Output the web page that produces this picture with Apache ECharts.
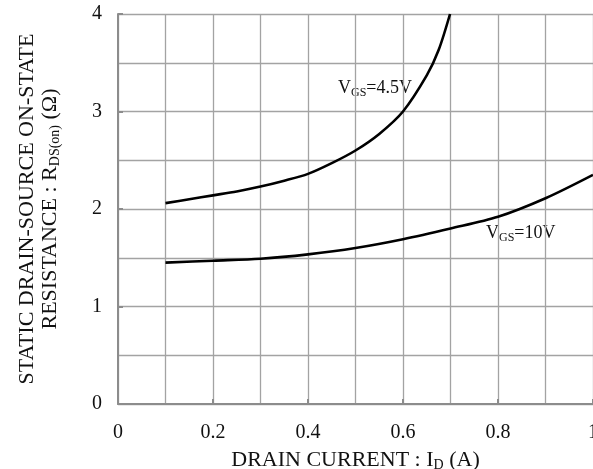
<!DOCTYPE html>
<html>
<head>
<meta charset="utf-8">
<script src="https://cdn.jsdelivr.net/npm/echarts@6/dist/echarts.min.js"></script>
<style>
  html, body { margin: 0; padding: 0; background: #fff; overflow: hidden; }
  #chart { width: 593px; height: 469px; }
</style>
</head>
<body>
<div id="chart"></div>
<script>
// drain current (A) vs on-state resistance (ohm)
var vgs45 = [
  [0.1, 2.06], [0.15, 2.10], [0.2, 2.14], [0.25, 2.18], [0.3, 2.23],
  [0.35, 2.29], [0.4, 2.36], [0.45, 2.47], [0.5, 2.6], [0.55, 2.77],
  [0.6, 3.0], [0.65, 3.37], [0.675, 3.63], [0.699, 4.0]
];
var vgs10 = [
  [0.1, 1.45], [0.2, 1.47], [0.3, 1.49], [0.4, 1.535], [0.5, 1.6],
  [0.6, 1.69], [0.7, 1.8], [0.8, 1.92], [0.9, 2.11], [1.0, 2.35]
];
var xTicks = ['0', '0.2', '0.4', '0.6', '0.8', '1'];
var yTicks = ['0', '1', '2', '3', '4'];

var FONT = '"Liberation Serif", "Times New Roman", serif';
var gridColor = '#a3a3a3';

var myChart = echarts.init(document.getElementById('chart'));

var option = {
  animation: false,
  textStyle: { fontFamily: FONT },
  grid: { left: 118, right: 0, top: 14, bottom: 65, show: false, containLabel: false, outerBoundsMode: 'none' },
  xAxis: [{
    type: 'value',
    min: 0, max: 1, interval: 0.1,
    axisLine: { lineStyle: { color: '#8c8c8c', width: 2 } },
    axisTick: { show: false },
    splitLine: { lineStyle: { color: gridColor, width: 1.3 } },
    axisLabel: {
      margin: 19, fontSize: 20, color: '#111', fontFamily: FONT,
      formatter: function(v) {
        var k = Math.round(v * 10);
        return k % 2 === 0 ? xTicks[k / 2] : '';
      }
    },
    name: '{a|DRAIN CURRENT : I}{s|D}{a| (A)}',
    nameLocation: 'middle',
    nameGap: 28,
    nameTextStyle: {
      rich: {
        a: { fontSize: 22, fontFamily: FONT, color: '#111', lineHeight: 24 },
        s: { fontSize: 14, fontFamily: FONT, color: '#111', lineHeight: 24, verticalAlign: 'bottom', padding: [10, 0, 0, 0] }
      }
    }
  }, {
    type: 'value',
    min: 0, max: 1, interval: 0.2,
    position: 'bottom',
    axisLine: { show: false },
    axisTick: { show: true, inside: true, length: 5, lineStyle: { color: '#8c8c8c', width: 2 } },
    axisLabel: { show: false },
    splitLine: { show: false }
  }],
  yAxis: [{
    type: 'value',
    min: 0, max: 4, interval: 0.5,
    axisLine: { show: true, lineStyle: { color: '#8c8c8c', width: 2 } },
    axisTick: { show: false },
    splitLine: { lineStyle: { color: gridColor, width: 1.3 } },
    axisLabel: {
      margin: 16, fontSize: 20, color: '#111', fontFamily: FONT,
      formatter: function(v) {
        var k = Math.round(v * 2);
        return k % 2 === 0 ? yTicks[k / 2] : '';
      }
    },
    name: '{a|STATIC DRAIN-SOURCE ON-STATE}\n{a|RESISTANCE : R}{s|DS(on)}{a| (Ω)}',
    nameLocation: 'middle',
    nameRotate: 90,
    nameGap: 56,
    nameTextStyle: {
      align: 'center',
      rich: {
        a: { fontSize: 22, fontFamily: FONT, color: '#111', lineHeight: 23 },
        s: { fontSize: 14, fontFamily: FONT, color: '#111', lineHeight: 23, verticalAlign: 'bottom', padding: [10, 0, 0, 0] }
      }
    }
  }, {
    type: 'value',
    min: 0, max: 4, interval: 1,
    position: 'left',
    axisLine: { show: false },
    axisTick: { show: true, inside: true, length: 5, lineStyle: { color: '#8c8c8c', width: 2 } },
    axisLabel: { show: false },
    splitLine: { show: false }
  }],
  graphic: [{
    type: 'text',
    left: 338, top: 78,
    style: {
      text: '{v|V}{s|GS}{v|=4.5V}',
      rich: {
        v: { fontSize: 18, fontFamily: FONT, fill: '#111', lineHeight: 22 },
        s: { fontSize: 12, fontFamily: FONT, fill: '#111', lineHeight: 22, verticalAlign: 'bottom', padding: [9, 0, 0, 0] }
      }
    }
  }, {
    type: 'text',
    left: 486, top: 223,
    style: {
      text: '{v|V}{s|GS}{v|=10V}',
      rich: {
        v: { fontSize: 18, fontFamily: FONT, fill: '#111', lineHeight: 22 },
        s: { fontSize: 12, fontFamily: FONT, fill: '#111', lineHeight: 22, verticalAlign: 'bottom', padding: [9, 0, 0, 0] }
      }
    }
  }],
  series: [{
    name: 'VGS=4.5V',
    type: 'line',
    smooth: 0.3,
    symbol: 'none',
    lineStyle: { color: '#000', width: 2.6 },
    data: vgs45
  }, {
    name: 'VGS=10V',
    type: 'line',
    smooth: 0.3,
    symbol: 'none',
    lineStyle: { color: '#000', width: 2.6 },
    data: vgs10
  }]
};

myChart.setOption(option);
</script>
</body>
</html>
